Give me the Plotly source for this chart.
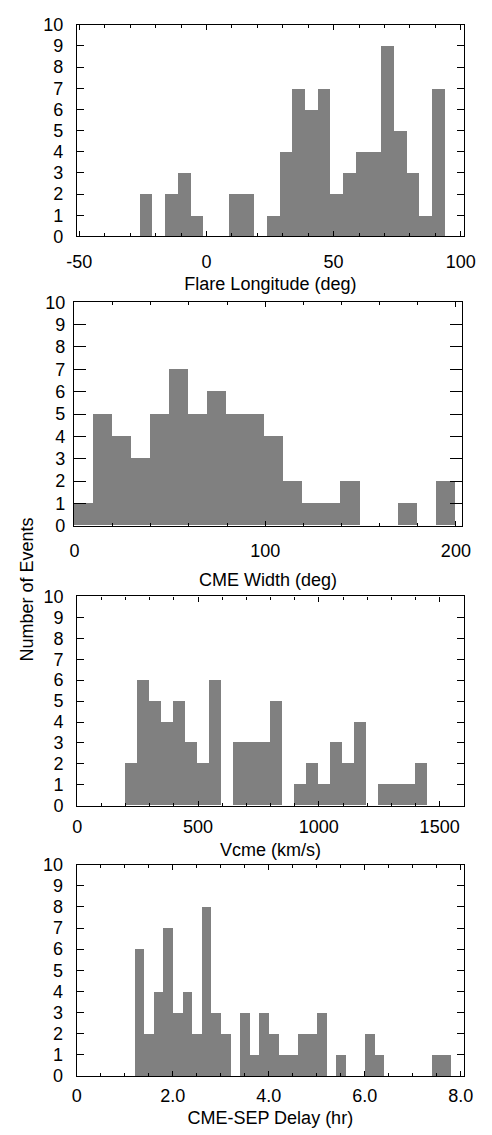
import plotly.graph_objects as go

# ---------------- data ----------------
flare_lon_centers = [-23.75, -13.75, -8.75, -3.75, 11.25, 16.25, 26.25, 31.25, 36.25, 41.25,
                     46.25, 51.25, 56.25, 61.25, 66.25, 71.25, 76.25, 81.25, 86.25, 91.25]
flare_lon_counts = [2, 2, 3, 1, 2, 2, 1, 4, 7, 6, 7, 2, 3, 4, 4, 9, 5, 3, 1, 7]
flare_bin = 5

cme_width_centers = [4.4, 14.4, 24.4, 34.4, 44.4, 54.4, 64.4, 74.4, 84.4, 94.4,
                     104.4, 114.4, 124.4, 134.4, 144.4, 154.4, 164.4, 174.4, 184.4, 194.4]
cme_width_counts = [1, 5, 4, 3, 5, 7, 5, 6, 5, 5, 4, 2, 1, 1, 2, 0, 0, 1, 0, 2]
width_bin = 10

vcme_centers = [222.5, 272.5, 322.5, 372.5, 422.5, 472.5, 522.5, 572.5, 622.5, 672.5,
                722.5, 772.5, 822.5, 872.5, 922.5, 972.5, 1022.5, 1072.5, 1122.5, 1172.5,
                1222.5, 1272.5, 1322.5, 1372.5, 1422.5]
vcme_counts = [2, 6, 5, 4, 5, 3, 2, 6, 0, 3, 3, 3, 5, 0, 1, 2, 1, 3, 2, 4, 0, 1, 1, 1, 2]
vcme_bin = 50

delay_centers = [1.3, 1.5, 1.7, 1.9, 2.1, 2.3, 2.5, 2.7, 2.9, 3.1, 3.3, 3.5, 3.7, 3.9, 4.1,
                 4.3, 4.5, 4.7, 4.9, 5.1, 5.3, 5.5, 5.7, 5.9, 6.1, 6.3, 6.5, 6.7, 6.9, 7.1,
                 7.3, 7.5, 7.7]
delay_counts = [6, 2, 4, 7, 3, 4, 2, 8, 3, 2, 0, 3, 1, 3, 2, 1, 1, 2, 2, 3, 0, 1, 0, 0, 2,
                1, 0, 0, 0, 0, 0, 1, 1]
delay_bin = 0.2

titles = ["Flare Longitude (deg)", "CME Width (deg)", "Vcme (km/s)", "CME-SEP Delay (hr)"]
y_title = "Number of Events"

# ---------------- layout helpers ----------------
W, H = 492, 1135
FONT = "Liberation Sans, Arial, Helvetica, sans-serif"
BAR = "#808080"


def px_x(a, b):
    return [a / W, b / W]


def px_y(top, bottom):
    return [1 - bottom / H, 1 - top / H]


panels = [
    dict(x=flare_lon_centers, y=flare_lon_counts, w=flare_bin,
         xdom=px_x(69.3, 475), ydom=px_y(15, 230.5), xrange=[-50.9, 101.2],
         tickvals=[-50, 0, 50, 100], ticktext=["-50", "0", "50", "100"], minor=10,
         ylen=7, ystand=9, xstand=9, tstand=6),
    dict(x=cme_width_centers, y=cme_width_counts, w=width_bin,
         xdom=px_x(66, 473.3), ydom=px_y(297.5, 525), xrange=[-0.35, 203.3],
         tickvals=[0, 100, 200], ticktext=["0", "100", "200"], minor=20,
         ylen=12, ystand=4, xstand=9, tstand=12),
    dict(x=vcme_centers, y=vcme_counts, w=vcme_bin,
         xdom=px_x(69.5, 475), ydom=px_y(597, 810), xrange=[0, 1600],
         tickvals=[0, 500, 1000, 1500], ticktext=["0", "500", "1000", "1500"], minor=100,
         ylen=7, ystand=9, xstand=5, tstand=6),
    dict(x=delay_centers, y=delay_counts, w=delay_bin,
         xdom=px_x(69, 475), ydom=px_y(870, 1085), xrange=[0, 8.065],
         tickvals=[0, 2, 4, 6, 8], ticktext=["0", "2.0", "4.0", "6.0", "8.0"], minor=0.5,
         ylen=7, ystand=9, xstand=3, tstand=6),
]

fig = go.Figure()
layout = dict(
    width=W, height=H, autosize=False,
    margin=dict(l=0, r=0, t=0, b=0),
    paper_bgcolor="white", plot_bgcolor="white",
    showlegend=False, bargap=0,
    font=dict(family=FONT, size=18, color="black"),
)

for i, p in enumerate(panels, start=1):
    sfx = "" if i == 1 else str(i)
    fig.add_trace(go.Bar(
        x=p["x"], y=p["y"], width=[p["w"]] * len(p["x"]),
        marker=dict(color=BAR, line=dict(width=0)),
        xaxis="x" + sfx, yaxis="y" + sfx, hoverinfo="x+y",
    ))
    layout["xaxis" + sfx] = dict(
        domain=p["xdom"], anchor="y" + sfx, range=p["xrange"],
        showgrid=False, zeroline=False,
        showline=True, linecolor="black", linewidth=1.3, mirror="ticks",
        ticks="inside", ticklen=5, tickwidth=1, tickcolor="black",
        tickmode="array", tickvals=p["tickvals"], ticktext=p["ticktext"],
        minor=dict(ticks="inside", dtick=p["minor"], ticklen=3, tickwidth=1,
                   tickcolor="black", showgrid=False),
        ticklabelstandoff=p["xstand"],
        tickfont=dict(family=FONT, size=18, color="black"),
        title=dict(text=titles[i - 1], font=dict(family=FONT, size=18, color="black"),
                   standoff=p["tstand"]),
        fixedrange=True,
    )
    layout["yaxis" + sfx] = dict(
        domain=p["ydom"], anchor="x" + sfx, range=[0, 10],
        showgrid=False, zeroline=False,
        showline=True, linecolor="black", linewidth=1.3, mirror="ticks",
        ticks="inside", ticklen=p["ylen"], tickwidth=1, tickcolor="black",
        tickmode="linear", tick0=0, dtick=1,
        ticklabelstandoff=p["ystand"],
        tickfont=dict(family=FONT, size=18, color="black"),
        fixedrange=True,
    )

fig.update_layout(**layout)
fig.add_annotation(
    text=y_title, textangle=-90, xref="paper", yref="paper",
    x=16.7 / W, y=1 - 590 / H, xanchor="center", yanchor="middle",
    showarrow=False, font=dict(family=FONT, size=18, color="black"),
)

fig.write_html("out.html")
